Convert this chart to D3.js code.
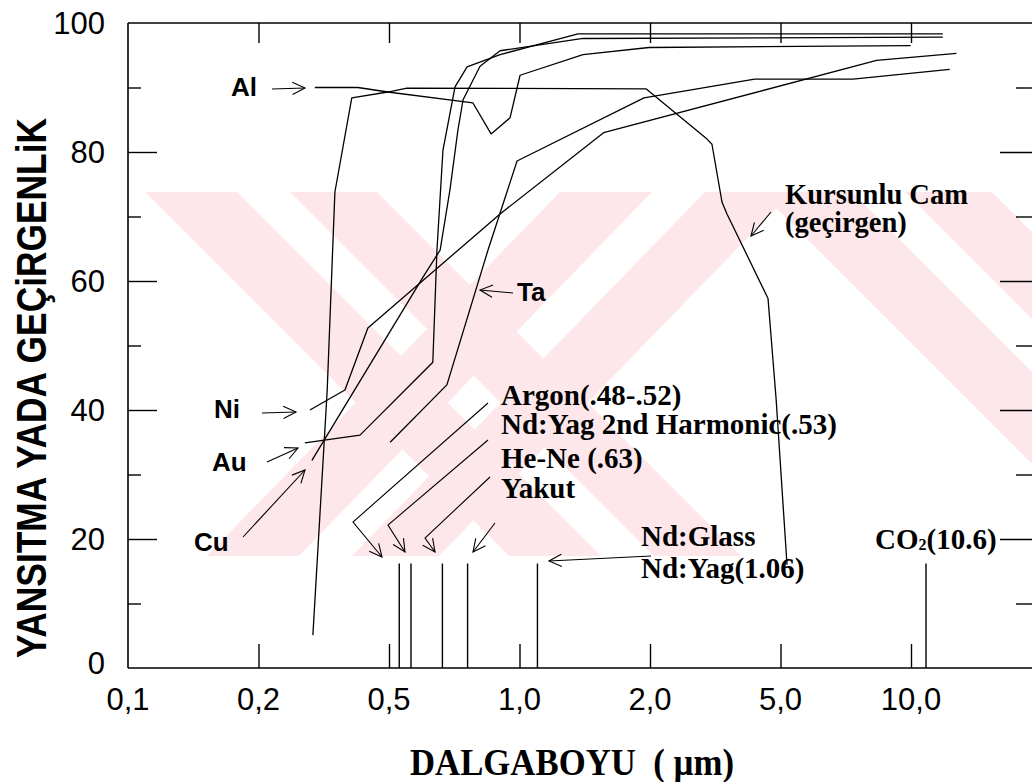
<!DOCTYPE html>
<html><head><meta charset="utf-8">
<script src="https://cdn.jsdelivr.net/npm/d3@7"></script>
<style>body{margin:0;background:#fff}svg{display:block}</style>
</head><body><svg id="c" width="1032" height="782"></svg>
<script>
// ---- data ----
const xTickValues = [0.1, 0.2, 0.5, 1, 2, 5, 10, 20];
const xTickLabels = ["0,1", "0,2", "0,5", "1,0", "2,0", "5,0", "10,0"];
const yMajorTicks = [0, 20, 40, 60, 80, 100];
const yMinorTicks = [10, 30, 50, 70, 90];

const glassX = [0.293, 0.324, 0.342, 0.385, 0.496, 0.550, 1.958, 2.985, 3.09, 3.317, 3.434, 4.58, 4.85, 5.176];
const glassY = [5.1, 43.1, 73.8, 88.4, 89.3, 89.9, 89.8, 82.0, 81.2, 72.2, 70.4, 57.3, 41.6, 16.0];
const alX = [0.297, 0.402, 0.496, 0.781, 0.860, 0.951, 1.003, 1.401, 1.989, 9.98];
const alY = [90, 90, 89.3, 87.6, 82.8, 85.3, 91.9, 95.1, 96.2, 96.5];
const niX = [0.287, 0.367, 0.431, 0.902, 1.563, 8.33, 12.73];
const niY = [40.0, 43.1, 52.7, 70.4, 83.0, 94.2, 95.3];
const taX = [0.503, 0.680, 0.846, 0.987, 1.937, 4.17, 7.35, 12.28];
const taY = [35.0, 43.9, 64.8, 78.6, 88.4, 91.3, 91.3, 92.8];
const auX = [0.277, 0.408, 0.631, 0.645, 0.666, 0.710, 0.757, 0.902, 1.364, 11.84];
const auY = [34.9, 36.1, 47.4, 64.8, 80.3, 90.1, 93.2, 95.1, 98.3, 98.3];
const cuX = [0.291, 0.599, 0.656, 0.691, 0.721, 0.741, 0.811, 0.902, 1.401, 11.84];
const cuY = [32.2, 60.6, 64.8, 74.1, 83.4, 88.1, 93.3, 95.7, 97.6, 97.8];

const laserX = [0.528, 0.562, 0.664, 0.759, 1.10, 10.83];
const laserTop = 16.2;

// ---- layout ----
const svg = d3.select("#c");
const L = 128, T = 23, B = 668, R = 1033, STEP = 130.5;
const x = d3.scaleLog().domain(xTickValues).range(xTickValues.map((d, i) => L + i * STEP));
const y = d3.scaleLinear().domain([0, 100]).range([B, T]);

const SANS = "'Liberation Sans', Arial, sans-serif";
const SERIF = "'Liberation Serif', 'Times New Roman', serif";

// faint background watermark (scanned page decoration)
const defs = svg.append("defs");
defs.append("clipPath").attr("id", "wm").append("rect")
  .attr("x", 145).attr("y", 192).attr("width", 887).attr("height", 364);
const wm = svg.append("g").attr("clip-path", "url(#wm)").attr("fill", "#fde7ea");
function band(x0, top, dir) {
  // two parallel stripes, 45-degree, starting at x0 on the top edge
  const h = 364, s = dir * h;
  [[0, 92], [145, 232]].forEach(([a, b]) => {
    wm.append("path").attr("d", d3.line()([
      [x0 + a, top], [x0 + b, top], [x0 + b + s, top + h], [x0 + a + s, top + h]]));
  });
}
band(145, 192, 1);
band(560, 192, -0.97);
band(760, 192, 1);

// frame
const g = svg.append("g").attr("stroke", "#000").attr("fill", "none");
g.append("line").attr("x1", L).attr("x2", L).attr("y1", T).attr("y2", B).attr("stroke-width", 1.6);
g.append("line").attr("x1", L).attr("x2", 1032).attr("y1", T).attr("y2", T).attr("stroke-width", 1.6);
g.append("line").attr("x1", L).attr("x2", 1032).attr("y1", B).attr("y2", B).attr("stroke-width", 1.6);
g.append("line").attr("x1", R).attr("x2", R).attr("y1", T).attr("y2", B).attr("stroke-width", 1.6);

// axes via d3 axis generators (ticks only)
const inner = xTickValues.slice(1, 7);
const axB = svg.append("g").attr("transform", `translate(0,${B})`)
  .call(d3.axisBottom(x).tickValues(inner).tickSize(-24).tickFormat(""));
const axT = svg.append("g").attr("transform", `translate(0,${T})`)
  .call(d3.axisTop(x).tickValues(inner).tickSize(-20).tickFormat(""));
const axL = svg.append("g").attr("transform", `translate(${L},0)`)
  .call(d3.axisLeft(y).tickValues(yMajorTicks.slice(1, 5)).tickSize(-29).tickFormat(""));
const axLm = svg.append("g").attr("transform", `translate(${L},0)`)
  .call(d3.axisLeft(y).tickValues(yMinorTicks).tickSize(-13).tickFormat(""));
const axR = svg.append("g").attr("transform", `translate(${R},0)`)
  .call(d3.axisRight(y).tickValues(yMajorTicks.slice(1, 5)).tickSize(-33).tickFormat(""));
const axRm = svg.append("g").attr("transform", `translate(${R},0)`)
  .call(d3.axisRight(y).tickValues(yMinorTicks).tickSize(-17).tickFormat(""));
[axB, axT, axL, axLm, axR, axRm].forEach(a => {
  a.select(".domain").remove();
  a.selectAll("line").attr("stroke", "#000").attr("stroke-width", 1.4);
});

// tick labels
svg.append("g").selectAll("text").data(xTickLabels).join("text")
  .attr("x", (d, i) => x(xTickValues[i])).attr("y", 710)
  .attr("text-anchor", "middle").attr("font-family", SANS).attr("font-size", 31)
  .text(d => d);
svg.append("g").selectAll("text").data(yMajorTicks).join("text")
  .attr("x", 105).attr("y", d => y(d) - (d === 0 ? 5 : 0)).attr("dy", "0.36em")
  .attr("text-anchor", "end").attr("font-family", SANS).attr("font-size", 31)
  .text(d => d);

// axis titles
svg.append("text").attr("transform", "translate(46,388) rotate(-90)")
  .attr("text-anchor", "middle").attr("font-family", SANS).attr("font-weight", "bold")
  .attr("font-size", 43).attr("textLength", 540).attr("lengthAdjust", "spacingAndGlyphs")
  .text("YANSITMA YADA GEÇiRGENLiK");
svg.append("text").attr("x", 572).attr("y", 775)
  .attr("text-anchor", "middle").attr("font-family", SERIF).attr("font-weight", "bold")
  .attr("font-size", 37).attr("xml:space", "preserve")
  .attr("textLength", 324).attr("lengthAdjust", "spacingAndGlyphs")
  .text("DALGABOYU  ( µm)");

// curves
const line = d3.line().x(d => x(d[0])).y(d => y(d[1]));
const series = [[glassX, glassY], [alX, alY], [niX, niY], [taX, taY], [auX, auY], [cuX, cuY]];
svg.append("g").selectAll("path").data(series).join("path")
  .attr("d", s => line(s[0].map((v, i) => [v, s[1][i]])))
  .attr("fill", "none").attr("stroke", "#000").attr("stroke-width", 1.3)
  .attr("stroke-linejoin", "round");

// laser lines
svg.append("g").selectAll("line").data(laserX).join("line")
  .attr("x1", d => x(d)).attr("x2", d => x(d)).attr("y1", y(0)).attr("y2", y(laserTop))
  .attr("stroke", "#000").attr("stroke-width", 1.4);

// annotations
function arrow(pts) {
  const n = pts.length, p = pts[n - 1], q = pts[n - 2];
  const a = Math.atan2(p[1] - q[1], p[0] - q[0]), len = 14, sp = 0.45;
  svg.append("path").attr("d", d3.line()(pts)).attr("fill", "none").attr("stroke", "#000").attr("stroke-width", 1.1);
  const h1 = [p[0] - len * Math.cos(a - sp), p[1] - len * Math.sin(a - sp)];
  const h2 = [p[0] - len * Math.cos(a + sp), p[1] - len * Math.sin(a + sp)];
  svg.append("path").attr("d", d3.line()([h1, p, h2])).attr("fill", "none").attr("stroke", "#000").attr("stroke-width", 1.1);
}
function label(t, px, py, font, size) {
  return svg.append("text").attr("x", px).attr("y", py).attr("font-family", font)
    .attr("font-weight", "bold").attr("font-size", size).text(t);
}
label("Al", 231, 96, SANS, 26); arrow([[272, 89], [305, 88]]);
label("Ni", 214, 418, SANS, 26); arrow([[262, 413], [296, 412]]);
label("Au", 212, 471, SANS, 26); arrow([[267, 462], [298, 448]]);
label("Cu", 194, 551, SANS, 26); arrow([[243, 537], [305, 470]]);
label("Ta", 517, 301, SANS, 26); arrow([[513, 293], [480, 290]]);
label("Kursunlu Cam", 785, 204, SERIF, 28.5);
label("(geçirgen)", 785, 232, SERIF, 28.5);
arrow([[771, 212], [751, 236]]);
label("Argon(.48-.52)", 501, 405, SERIF, 29);
label("Nd:Yag 2nd Harmonic(.53)", 501, 434, SERIF, 29);
label("He-Ne (.63)", 501, 468, SERIF, 29);
label("Yakut", 501, 498, SERIF, 29);
label("Nd:Glass", 641, 546, SERIF, 29);
label("Nd:Yag(1.06)", 641, 578, SERIF, 29);
const co = label("CO", 875, 549, SERIF, 29);
co.append("tspan").attr("font-size", 16).attr("dy", 1).text("2");
co.append("tspan").attr("dy", -1).text("(10.6)");
arrow([[488, 403], [353, 522], [382, 557]]);
arrow([[488, 440], [388, 525], [405, 552]]);
arrow([[490, 477], [425, 538], [435, 552]]);
arrow([[495, 523], [473, 552]]);
arrow([[651, 556], [549, 561]]);
</script></body></html>
